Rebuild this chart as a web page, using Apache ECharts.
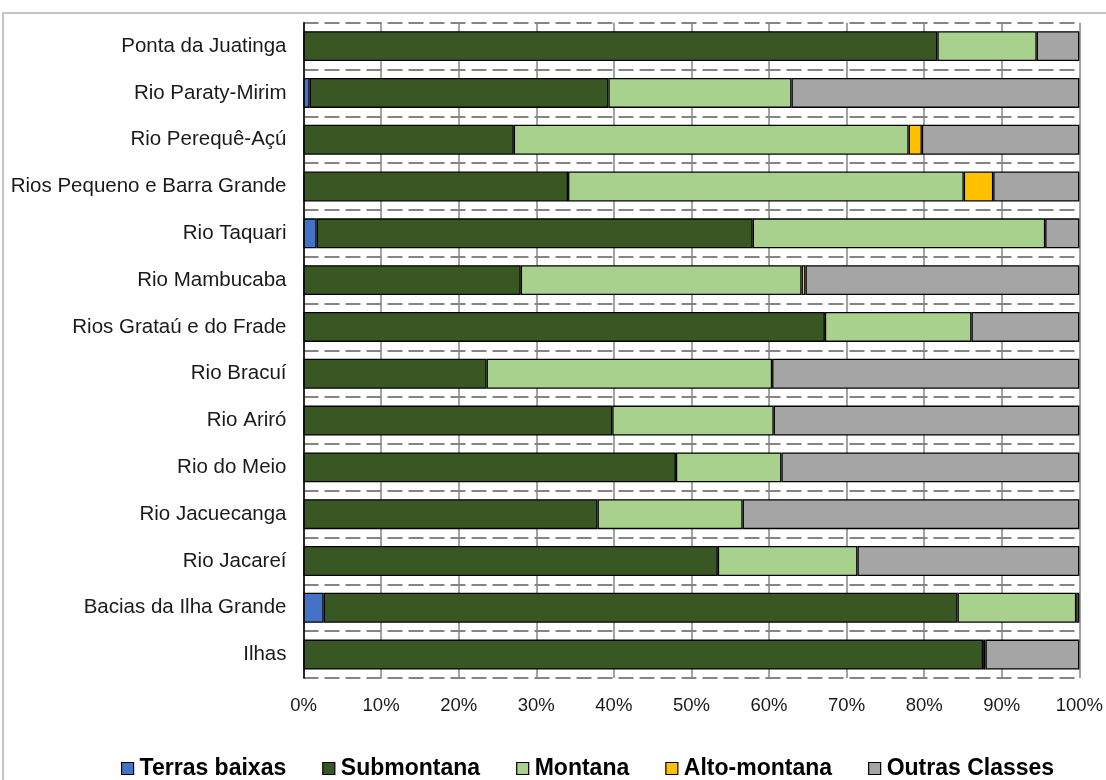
<!DOCTYPE html>
<html>
<head>
<meta charset="utf-8">
<script src="https://cdn.jsdelivr.net/npm/echarts@6/dist/echarts.min.js"></script>
<style>
  html, body { margin: 0; padding: 0; background: #ffffff; }
  #chart { width: 1106px; height: 780px; }
</style>
</head>
<body>
<div id="chart"></div>
<script>
// Bacias hidrográficas (top to bottom)
const categories = [
  'Ponta da Juatinga',
  'Rio Paraty-Mirim',
  'Rio Perequê-Açú',
  'Rios Pequeno e Barra Grande',
  'Rio Taquari',
  'Rio Mambucaba',
  'Rios Grataú e do Frade',
  'Rio Bracuí',
  'Rio Ariró',
  'Rio do Meio',
  'Rio Jacuecanga',
  'Rio Jacareí',
  'Bacias da Ilha Grande',
  'Ilhas'
];

// Share of each vegetation class (%)
const terrasBaixas  = [0,    0.8,  0,    0,    1.7,  0,    0,    0,    0,    0,    0,    0,    2.6,  0];
const submontana    = [81.7, 38.5, 27.1, 34.1, 56.2, 28.0, 67.2, 23.6, 39.8, 48.0, 37.9, 53.4, 81.7, 87.6];
const montana       = [12.8, 23.6, 50.9, 51.0, 37.7, 36.2, 18.9, 36.8, 20.8, 13.6, 18.7, 18.0, 15.3, 0.3];
const altoMontana   = [0,    0,    1.7,  3.8,  0,    0.5,  0,    0,    0,    0,    0,    0,    0,    0];
const outrasClasses = [5.5,  37.1, 20.3, 11.1, 4.4,  35.3, 13.9, 39.6, 39.4, 38.4, 43.4, 28.6, 0.4,  12.1];

const xTicks = [0, 10, 20, 30, 40, 50, 60, 70, 80, 90, 100];

const seriesDefs = [
  { name: 'Terras baixas',  data: terrasBaixas,  color: '#4472C4' },
  { name: 'Submontana',     data: submontana,    color: '#385723' },
  { name: 'Montana',        data: montana,       color: '#A9D18E' },
  { name: 'Alto-montana',   data: altoMontana,   color: '#FFC000' },
  { name: 'Outras Classes', data: outrasClasses, color: '#A5A5A5' }
];

const FONT = '"Liberation Sans", Arial, sans-serif';

const chart = echarts.init(document.getElementById('chart'), null, { renderer: 'canvas' });

chart.setOption({
  animation: false,
  backgroundColor: '#ffffff',
  graphic: [
    {
      // outer chart frame
      type: 'rect',
      silent: true,
      z: -10,
      shape: { x: 3, y: 13, width: 1300, height: 900 },
      style: { fill: 'none', stroke: '#c4c4c4', lineWidth: 2 }
    }
  ],
  grid: {
    left: 303.5,
    right: 24.5,
    top: 22.7,
    bottom: 102,
    containLabel: false
  },
  legend: {
    left: 116,
    top: 752,
    itemWidth: 12,
    itemHeight: 12,
    itemGap: 36,
    icon: 'rect',
    itemStyle: { borderColor: '#000000', borderWidth: 1.2 },
    textStyle: {
      fontFamily: FONT,
      fontSize: 23,
      fontWeight: 'bold',
      color: '#000000',
      padding: [0, 0, 0, 1]
    },
    data: seriesDefs.map(s => s.name)
  },
  xAxis: {
    type: 'value',
    min: xTicks[0],
    max: xTicks[xTicks.length - 1],
    interval: xTicks[1] - xTicks[0],
    axisLine: { show: false },
    axisTick: { show: false },
    axisLabel: {
      formatter: '{value}%',
      fontFamily: FONT,
      fontSize: 18.5,
      color: '#1a1a1a',
      margin: 18
    },
    splitLine: {
      show: true,
      lineStyle: { color: '#858585', width: 1.5, type: 'solid' }
    }
  },
  yAxis: {
    type: 'category',
    inverse: true,
    data: categories,
    axisLine: { show: true, lineStyle: { color: '#000000', width: 1.5 } },
    axisTick: { show: false },
    axisLabel: {
      fontFamily: FONT,
      fontSize: 20.5,
      color: '#1a1a1a',
      margin: 17
    },
    splitLine: {
      show: true,
      lineStyle: { color: '#858585', width: 2, type: [15, 6] }
    }
  },
  series: seriesDefs.map(s => ({
    name: s.name,
    type: 'bar',
    stack: 'total',
    barCategoryGap: '36%',
    data: s.data.map(v => (v === 0 ? '-' : v)),
    itemStyle: {
      color: s.color,
      borderColor: '#000000',
      borderWidth: 1.3
    },
    emphasis: { disabled: true }
  }))
});
</script>
</body>
</html>
